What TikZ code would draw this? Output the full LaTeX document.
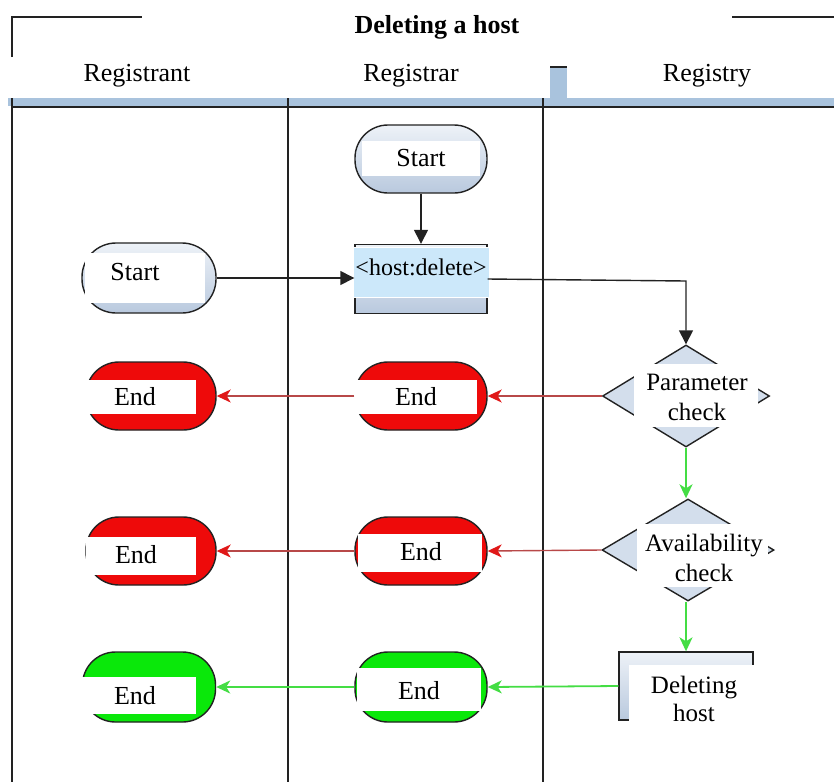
\documentclass[tikz,border=0pt]{standalone}
\usepackage{fontspec}
\setmainfont{Liberation Serif}
\usetikzlibrary{shapes.geometric,arrows.meta}
\definecolor{band}{HTML}{A9C3DD}
\definecolor{lane}{HTML}{222222}
\definecolor{redfill}{HTML}{EE0A0A}
\definecolor{greenfill}{HTML}{0AE80A}
\definecolor{redline}{HTML}{B84848}
\definecolor{redtip}{HTML}{E01818}
\definecolor{greenline}{HTML}{44DD44}
\definecolor{dia}{HTML}{D3DEEC}
\definecolor{shadebot}{HTML}{B9C9DE}
\definecolor{hostblue}{HTML}{CCE8FA}
\tikzset{
  txt/.style={font=\fontsize{26}{30}\selectfont, inner sep=0pt},
  stadium/.style={draw=lane, line width=1.4pt, rounded corners=33pt, minimum width=132pt, minimum height=68pt, inner sep=0pt},
  startst/.style={stadium, top color=white!60!dia, bottom color=shadebot},
  redst/.style={stadium, fill=redfill},
  greenst/.style={stadium, fill=greenfill},
  wbox/.style={fill=white},
  blk/.style={draw=lane, line width=1.4pt, -{Triangle[length=14pt,width=14pt]}},
  redarr/.style={draw=redline, line width=1.4pt, -{Stealth[length=14pt,width=13pt,inset=4pt,color=redtip]}},
  grnarr/.style={draw=greenline, line width=1.8pt, -{Stealth[length=14pt,width=13pt,inset=4pt]}},
  decision/.style={diamond, draw=lane, line width=1.4pt, fill=dia, minimum width=167pt, minimum height=102pt, inner sep=0pt},
}
\begin{document}
\begin{tikzpicture}[x=1pt,y=-1pt]
\useasboundingbox (0,0) rectangle (834,782);
% frame / header
\draw[lane, line width=1.3pt] (12,57) -- (12,17) -- (142,17);
\draw[lane, line width=1.3pt] (732,17) -- (834,17);
\node[txt, font=\fontsize{26}{30}\selectfont\bfseries] (title) at (437,27) {Deleting a host};
\fill[band] (8,98) rectangle (834,106);
\fill[band] (550,66) rectangle (567,100);
\draw[lane, line width=1.2pt] (550,67) -- (567,67);
\draw[lane, line width=1.6pt] (12,107) -- (834,107);
\draw[lane, line width=1.4pt] (12,98) -- (12,782);
\draw[lane, line width=1.4pt] (288,98) -- (288,782);
\draw[lane, line width=1.4pt] (543,98) -- (543,782);
\node[txt] (l1) at (137,76) {Registrant};
\node[txt] (l2) at (411,76) {Registrar};
\node[txt] (l3) at (707,76) {Registry};

% Registrar start
\node[startst] (s2) at (421,159) {};
\fill[wbox] (362,141) rectangle (480,176);
\node[txt] (s2t) at (421,158) {Start};
% host:delete
\node[draw=lane, line width=1.4pt, top color=white!60!dia, bottom color=shadebot, minimum width=132pt, minimum height=69pt, inner sep=0pt] (hd) at (421,279) {};
\draw[white, line width=1pt, fill=hostblue] (353,247) rectangle (489,297);
\node[txt, font=\fontsize{24}{28}\selectfont] (hdt) at (421,267) {<host:delete>};
% Registrant start
\node[startst, minimum width=134pt, minimum height=70pt, rounded corners=34pt] (s1) at (149,278) {};
\fill[wbox] (85,253) rectangle (205,303);
\node[txt] (s1t) at (135,272) {Start};

% Decision 1
\node[decision] (d1) at (686,396) {};
\fill[wbox] (634,364) rectangle (758,427);
\node[txt, align=center, font=\fontsize{25}{30}\selectfont] (d1t) at (697,397) {Parameter\\check};
% End row 1
\node[redst] (e12) at (421,396) {};
\fill[wbox] (353,380) rectangle (477,414);
\node[txt] (e12t) at (416,397) {End};
\node[redst, minimum width=130pt] (e11) at (151,396) {};
\fill[wbox] (73,380) rectangle (196,414);
\node[txt] (e11t) at (135,397) {End};

% Decision 2
\node[decision, minimum width=172pt] (d2) at (688,550) {};
\fill[wbox] (637,524) rectangle (768,587);
\node[txt, align=center, font=\fontsize{25}{30}\selectfont] (d2t) at (704,558) {Availability\\check};
% End row 2
\node[redst] (e22) at (421,551) {};
\fill[wbox] (358,534) rectangle (482,572);
\node[txt] (e22t) at (421,552) {End};
\node[redst, minimum width=130pt] (e21) at (151,551) {};
\fill[wbox] (86,537) rectangle (196,575);
\node[txt] (e21t) at (136,555) {End};

% Deleting host
\node[draw=lane, line width=1.4pt, top color=white!60!dia, bottom color=shadebot, minimum width=134pt, minimum height=68pt, inner sep=0pt] (dh) at (686,686) {};
\fill[wbox] (629,665) rectangle (762,740);
\node[txt, align=center, font=\fontsize{25}{28}\selectfont] (dht) at (694,699) {Deleting\\host};
% End row 3
\node[greenst, minimum height=70pt] (e32) at (421,687) {};
\fill[wbox] (357,668) rectangle (481,711);
\node[txt] (e32t) at (419,691) {End};
\node[greenst, minimum width=133pt, minimum height=70pt] (e31) at (149,687) {};
\fill[wbox] (73,677) rectangle (196,714);
\node[txt] (e31t) at (135,696) {End};

% connectors
\draw[blk] (s2.south) -- (hd.north);
\draw[blk] (s1.east) -- (s1.east -| hd.west);
\draw[blk] (hd.east) -- (686,281) -- (d1.north);
\draw[redarr] (d1.west) -- (e12.east);
\draw[redarr] (e12.west) -- (e11.east);
\draw[grnarr] (d1.south) -- (d2.north -| d1.south);
\draw[redarr] (d2.west) -- (e22.east);
\draw[redarr] (e22.west) -- (e21.east);
\draw[grnarr] (d2.south -| dh.north) -- (dh.north);
\draw[grnarr] (dh.west) -- (e32.east);
\draw[grnarr] (e32.west) -- (e31.east);
\end{tikzpicture}
\end{document}
